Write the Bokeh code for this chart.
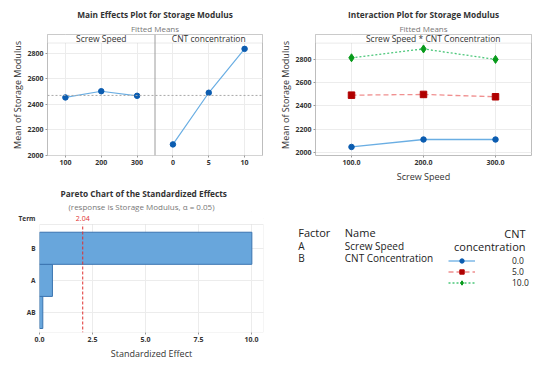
from bokeh.plotting import figure
from bokeh.layouts import column, row
from bokeh.models import (Range1d, FixedTicker, Span, BoxAnnotation, Label, Title,
                          Legend, LegendItem, NumeralTickFormatter)
from bokeh.embed import file_html
from bokeh.resources import INLINE

FONT = "Open Sans"

# ---------------- data ----------------
# Main effects (fitted means)
speed_levels = [100, 200, 300]
speed_means = [2454, 2503, 2467]
cnt_levels = [0, 5, 10]
cnt_means = [2085, 2491, 2836]
grand_mean = 2470

# Interaction plot (Screw Speed x CNT concentration)
ip_speed = [100, 200, 300]
ip_cnt0 = [2048, 2112, 2112]
ip_cnt5 = [2493, 2499, 2479]
ip_cnt10 = [2814, 2890, 2800]
cnt_series_labels = ["0.0", "5.0", "10.0"]

# Pareto of standardized effects
terms = ["AB", "A", "B"]
effects = [0.156, 0.61, 10.02]
critical = 2.04

factor_codes = ["A", "B"]
factor_names = ["Screw Speed", "CNT Concentration"]

W, H = 275, 185
GRID = "#ececec"
OUTLINE = "#bdbdbd"
TXT = "#333333"
BLUE_L, BLUE_M = "#6aaee3", "#0b5cb0"
RED_L, RED_M = "#f09090", "#b00000"
GRN_L, GRN_M = "#4cc77a", "#079a1a"


def style(p):
    p.outline_line_color = OUTLINE
    p.grid.grid_line_color = GRID
    for ax in p.axis:
        ax.axis_line_color = None
        ax.major_tick_in = 0
        ax.major_tick_out = 2
        ax.major_tick_line_color = "#999999"
        ax.minor_tick_line_color = None
        ax.major_label_text_font = FONT
        ax.major_label_text_font_size = "7px"
        ax.major_label_text_font_style = "bold"
        ax.major_label_text_color = TXT
        ax.major_label_standoff = 2
        ax.axis_label_text_font = FONT
        ax.axis_label_text_font_size = "9px"
        ax.axis_label_text_font_style = "normal"
        ax.axis_label_text_color = TXT
    p.xaxis.axis_label_standoff = 2
    p.yaxis.axis_label_standoff = 0


def titles(p, main, sub, sub_standoff=2, align="center", off_main=0, off_sub=0):
    p.title.text = main
    p.title.text_font = FONT
    p.title.text_font_size = "8.3px"
    p.title.text_font_style = "bold"
    p.title.text_color = TXT
    p.title.align = align
    p.title.offset = off_main
    p.title.standoff = 0
    p.add_layout(Title(text=sub, text_font=FONT, text_font_size="8px",
                       text_font_style="normal", text_color="#777777",
                       align=align, offset=off_sub, standoff=sub_standoff), "above")


# ---------------- Main effects ----------------
me = figure(width=W, height=H, x_range=Range1d(50, 650), y_range=Range1d(1997.7, 2949),
            output_backend="svg", toolbar_location=None,
            min_border_left=47, min_border_right=13, min_border_top=34, min_border_bottom=28)
me.extra_x_ranges = {"cnt": Range1d(-17.5, 12.5)}
titles(me, "Main Effects Plot for Storage Modulus", "Fitted Means")
style(me)


def cnt_to_speed(c):
    r0, r1 = me.x_range, me.extra_x_ranges["cnt"]
    return r0.start + (c - r1.start) / (r1.end - r1.start) * (r0.end - r0.start)


tick_pos = list(speed_levels) + [cnt_to_speed(c) for c in cnt_levels]
tick_lab = [str(s) for s in speed_levels] + [str(c) for c in cnt_levels]
me.xaxis.ticker = FixedTicker(ticks=tick_pos)
me.xaxis.major_label_overrides = {pos: lab for pos, lab in zip(tick_pos, tick_lab)}
me.yaxis.ticker = FixedTicker(ticks=[2000, 2200, 2400, 2600, 2800])
me.yaxis.axis_label = "Mean of Storage Modulus"

me.add_layout(Span(location=grand_mean, dimension="width", line_color="#a8a8a8",
                   line_dash="2 2", line_width=1))
me.line(speed_levels, speed_means, line_color=BLUE_L, line_width=1.2)
me.scatter(speed_levels, speed_means, size=5.5, color=BLUE_M)
me.line(cnt_levels, cnt_means, line_color=BLUE_L, line_width=1.2, x_range_name="cnt")
me.scatter(cnt_levels, cnt_means, size=5.5, color=BLUE_M, x_range_name="cnt")

me.add_layout(BoxAnnotation(bottom=2882, fill_color="white", fill_alpha=1,
                            line_color=OUTLINE, line_width=1))
me.add_layout(Span(location=350, dimension="height", line_color="#9c9c9c", line_width=1))
for txt, xx, rn in [("Screw Speed", 200, "default"), ("CNT concentration", 5, "cnt")]:
    me.add_layout(Label(x=xx, y=2915, text=txt, x_range_name=rn, text_align="center",
                        text_baseline="middle", text_font=FONT, text_font_size="8.5px",
                        text_color=TXT))

# ---------------- Interaction ----------------
ip = figure(width=W, height=H, x_range=Range1d(50, 350), y_range=Range1d(1974.6, 3014),
            output_backend="svg", toolbar_location=None,
            min_border_left=40, min_border_right=19, min_border_top=34, min_border_bottom=28)
titles(ip, "Interaction Plot for Storage Modulus", "Fitted Means")
style(ip)
ip.xaxis.ticker = FixedTicker(ticks=ip_speed)
ip.xaxis.formatter = NumeralTickFormatter(format="0.0")
ip.xaxis.axis_label = "Screw Speed"
ip.yaxis.ticker = FixedTicker(ticks=[2000, 2200, 2400, 2600, 2800])
ip.yaxis.axis_label = "Mean of Storage Modulus"

series = [(ip_cnt0, BLUE_L, "solid", BLUE_M, "circle", 5.5),
          (ip_cnt5, RED_L, "5 3", RED_M, "square", 6.5),
          (ip_cnt10, GRN_L, "2 2", GRN_M, "diamond", 8)]
for ys, lc, dash, mc, mk, sz in series:
    ip.line(ip_speed, ys, line_color=lc, line_width=1.3, line_dash=dash)
    ip.scatter(ip_speed, ys, size=sz, marker=mk, color=mc)

ip.add_layout(BoxAnnotation(bottom=2940, fill_color="white", fill_alpha=1,
                            line_color=OUTLINE, line_width=1))
ip.add_layout(Label(x=215, y=2977, text="Screw Speed *  CNT Concentration", text_align="center",
                    text_baseline="middle", text_font=FONT, text_font_size="8.5px",
                    text_color=TXT))

# ---------------- Pareto ----------------
# the frame reaches up to the "Term" row; the visible box ends at plot_top
PL, PR, PT, PB = 39, 12, 26, 38
plot_top = 3.74
term_y = 3.93
par = figure(width=W, height=H, x_range=Range1d(0, 10.57), y_range=Range1d(0.375, 4.146),
             output_backend="svg", toolbar_location=None,
             min_border_left=PL, min_border_right=PR, min_border_top=PT, min_border_bottom=PB)
titles(par, "Pareto Chart of the Standardized Effects",
       "(response is Storage Modulus, \u03b1 = 0.05)", sub_standoff=0,
       align="left", off_main=21, off_sub=29)
style(par)
par.outline_line_color = None
ypos = list(range(1, len(terms) + 1))
par.hbar(y=ypos, right=effects, left=0, height=1.0, fill_color="#68a6dc",
         line_color="#3a74b0", line_width=1)
par.yaxis.ticker = FixedTicker(ticks=ypos + [term_y])
par.yaxis.major_label_overrides = {**{y: t for y, t in zip(ypos, terms)}, term_y: "Term"}
par.yaxis.major_tick_line_color = None
par.yaxis.major_label_text_font_size = "6.5px"
par.xaxis.ticker = FixedTicker(ticks=[0, 2.5, 5, 7.5, 10])
par.xaxis.formatter = NumeralTickFormatter(format="0.0")
par.xaxis.axis_label = "Standardized Effect"
par.add_layout(Span(location=critical, dimension="height", line_color="#e03030",
                    line_dash="3 2", line_width=1))
par.add_layout(BoxAnnotation(bottom=plot_top, fill_color="white", fill_alpha=1,
                             line_color=None))
par.add_layout(BoxAnnotation(top=plot_top, fill_alpha=0, line_color=OUTLINE, line_width=1))
par.add_layout(Label(x=critical, y=term_y, text=f"{critical:.2f}", text_align="center",
                     text_baseline="middle", text_font=FONT, text_font_size="7px",
                     text_color="#e03030"))

# ---------------- Legend / factor table ----------------
# frame is aligned with the Pareto frame in the same row;
# the y range is set so that data units equal pixels from the row's top.
FT, FB = PT, H - PB
leg = figure(width=W, height=H, x_range=Range1d(0, W), y_range=Range1d(FB, FT),
             output_backend="svg", toolbar_location=None, x_axis_type=None, y_axis_type=None,
             min_border_left=0, min_border_right=0, min_border_top=FT, min_border_bottom=H - FB)
leg.outline_line_color = None
leg.grid.visible = False


def lab(x, y, t, size, align="left", bold=False):
    leg.add_layout(Label(x=x, y=y, text=t, text_align=align, text_baseline="middle",
                         text_font=FONT, text_font_size=size, text_color="#222222",
                         text_font_style="bold" if bold else "normal"))


lab(22.7, 46.7, "Factor", "11px")
lab(69.3, 46.7, "Name", "11px")
lab(250, 48.3, "CNT", "11px", align="right")
lab(250, 61, "concentration", "11px", align="right")
for i, (c, n) in enumerate(zip(factor_codes, factor_names)):
    lab(22.7, 60.7 + i * 11.6, c, "10px")
    lab(69.3, 60.7 + i * 11.6, n, "10px")

# legend renderers carry the interaction series (they fall outside this blank frame)
items = []
for (ys, lc, dash, mc, mk, sz), name in zip(series, cnt_series_labels):
    rl = leg.line(ip_speed, ys, line_color=lc, line_width=1.3, line_dash=dash)
    rs = leg.scatter(ip_speed, ys, marker=mk, size=sz, color=mc)
    items.append(LegendItem(label=name, renderers=[rl, rs]))
legend_bottom = 103
legend = Legend(items=items, location=(173, FB - legend_bottom), padding=0, margin=0, spacing=0,
                glyph_width=27, glyph_height=11, label_height=11, label_standoff=37,
                border_line_color=None, background_fill_alpha=0,
                label_text_font=FONT, label_text_font_size="8.5px", label_text_color="#222222")
leg.add_layout(legend)

layout = column(row(me, ip), row(par, leg))
open("out.html", "w").write(file_html(layout, INLINE))
